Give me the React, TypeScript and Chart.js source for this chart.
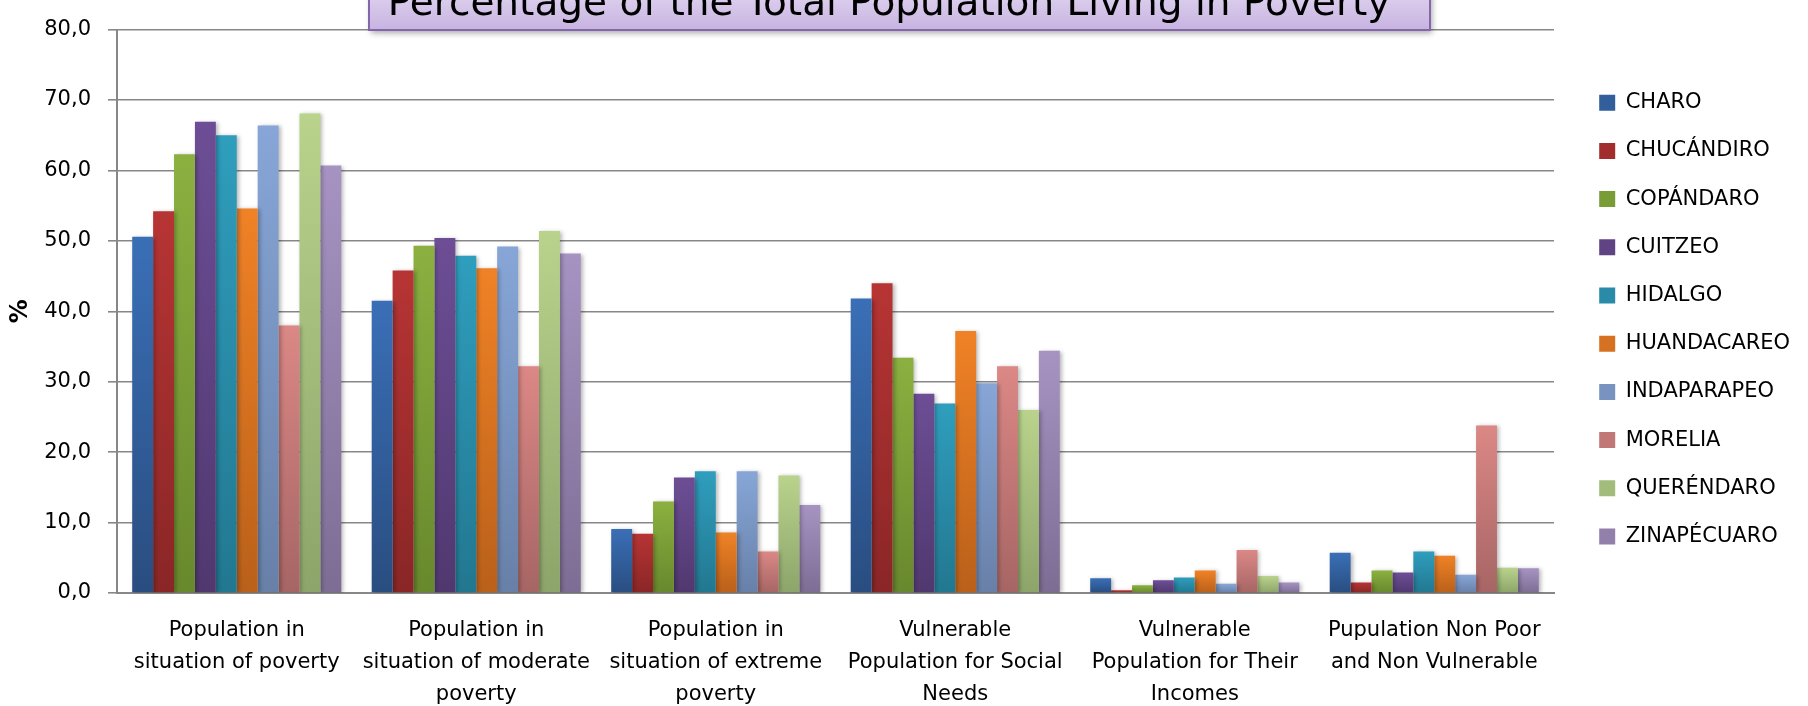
import React, { useEffect, useRef } from "react";
import { Chart, registerables } from "chart.js";

Chart.register(...registerables);

// ---------- data ----------
const chartTitle = "Percentage of the Total Population Living in Poverty";
const yAxisTitle = "%";

const categories: string[][] = [
  ["Population in", "situation of poverty"],
  ["Population in", "situation of moderate", "poverty"],
  ["Population in", "situation of extreme", "poverty"],
  ["Vulnerable", "Population for Social", "Needs"],
  ["Vulnerable", "Population for Their", "Incomes"],
  ["Pupulation Non Poor", "and Non Vulnerable"],
];

const municipalities = [
  "CHARO",
  "CHUCÁNDIRO",
  "COPÁNDARO",
  "CUITZEO",
  "HIDALGO",
  "HUANDACAREO",
  "INDAPARAPEO",
  "MORELIA",
  "QUERÉNDARO",
  "ZINAPÉCUARO",
];

const charo = [50.6, 41.5, 9.1, 41.8, 2.1, 5.7];
const chucandiro = [54.2, 45.8, 8.4, 44.0, 0.4, 1.5];
const copandaro = [62.3, 49.3, 13.0, 33.4, 1.1, 3.2];
const cuitzeo = [66.9, 50.4, 16.4, 28.3, 1.8, 2.9];
const hidalgo = [65.0, 47.9, 17.3, 26.9, 2.2, 5.9];
const huandacareo = [54.6, 46.1, 8.6, 37.2, 3.2, 5.3];
const indaparapeo = [66.4, 49.2, 17.3, 29.8, 1.3, 2.6];
const morelia = [38.0, 32.2, 5.9, 32.2, 6.1, 23.8];
const querendaro = [68.1, 51.4, 16.7, 26.0, 2.4, 3.6];
const zinapecuaro = [60.7, 48.2, 12.5, 34.4, 1.5, 3.5];

const seriesValues = [
  charo,
  chucandiro,
  copandaro,
  cuitzeo,
  hidalgo,
  huandacareo,
  indaparapeo,
  morelia,
  querendaro,
  zinapecuaro,
];

const yMin = 0;
const yMax = 80;
const yStep = 10;

// ---------- styles ----------
const topColors = [
  "#3a6fb7",
  "#b73434",
  "#8cb040",
  "#6d4e96",
  "#2f9ebd",
  "#f08226",
  "#87a6d7",
  "#db8886",
  "#b9d38c",
  "#a693c2",
];
const bottomColors = [
  "#294d80",
  "#8a2626",
  "#68882d",
  "#50386f",
  "#227790",
  "#b9601a",
  "#6880a8",
  "#a66564",
  "#8da46a",
  "#7d6d94",
];

const FONT = '"DejaVu Sans", "Liberation Sans", sans-serif';
const GRID = "#878787";

function mix(a: string, b: string) {
  const pa = [1, 3, 5].map((i) => parseInt(a.slice(i, i + 2), 16));
  const pb = [1, 3, 5].map((i) => parseInt(b.slice(i, i + 2), 16));
  return (
    "rgb(" + pa.map((v, i) => Math.round((v + pb[i]) / 2)).join(",") + ")"
  );
}

const titleBoxPlugin = {
  id: "titleBox",
  afterDraw(chart: any) {
    const ctx = chart.ctx as CanvasRenderingContext2D;
    const x0 = 369;
    const x1 = 1430;
    const yTop = -30;
    const yBot = 30;
    ctx.save();
    ctx.shadowColor = "rgba(0,0,0,0.35)";
    ctx.shadowBlur = 6;
    ctx.shadowOffsetX = 2;
    ctx.shadowOffsetY = 3;
    const g = ctx.createLinearGradient(0, yTop, 0, yBot);
    g.addColorStop(0, "#ebe4f6");
    g.addColorStop(1, "#c8b3e1");
    ctx.fillStyle = g;
    ctx.fillRect(x0, yTop, x1 - x0, yBot - yTop);
    ctx.shadowColor = "transparent";
    ctx.strokeStyle = "#8466ab";
    ctx.lineWidth = 2;
    ctx.strokeRect(x0, yTop, x1 - x0, yBot - yTop);
    ctx.fillStyle = "#000";
    ctx.font = "39px " + FONT;
    ctx.textAlign = "center";
    ctx.textBaseline = "alphabetic";
    ctx.fillText(chartTitle, 889, 15);
    ctx.restore();
  },
};

const legendFitPlugin = {
  id: "legendFit",
  beforeLayout(chart: any) {
    const l = chart.legend;
    if (l && !l.__patched) {
      const orig = l.fit.bind(l);
      l.fit = function () {
        orig();
        this.width = 200;
      };
      l.__patched = true;
    }
  },
  afterLayout(chart: any) {
    const l = chart.legend;
    if (l) {
      l.left += 18;
      l.right = chart.width;
      l.width = l.right - l.left;
      l.top -= 42.4;
      l.bottom -= 42.4;
    }
  },
};

const barShadowPlugin = {
  id: "barShadow",
  beforeDatasetsDraw(chart: any) {
    const ctx = chart.ctx;
    ctx.save();
    ctx.shadowColor = "rgba(0,0,0,0.28)";
    ctx.shadowBlur = 4;
    ctx.shadowOffsetX = 2;
    ctx.shadowOffsetY = 1;
  },
  afterDatasetsDraw(chart: any) {
    chart.ctx.restore();
  },
};

export default function App() {
  const canvasRef = useRef<HTMLCanvasElement | null>(null);

  useEffect(() => {
    if (!canvasRef.current) return;
    Chart.defaults.font.family = FONT;
    Chart.defaults.color = "#000";

    const datasets = municipalities.map((name, i) => ({
      label: name,
      data: seriesValues[i],
      backgroundColor: (c: any) => {
        const top = topColors[i];
        const bottom = bottomColors[i];
        const chart = c.chart;
        const ys = chart.scales && chart.scales.y;
        if (!ys || c.type !== "data") return mix(top, bottom);
        const v = c.raw as number;
        const y0 = ys.getPixelForValue(0);
        const y1 = ys.getPixelForValue(v);
        if (!isFinite(y0) || !isFinite(y1) || Math.abs(y0 - y1) < 1)
          return top;
        const g = chart.ctx.createLinearGradient(0, y1, 0, y0);
        g.addColorStop(0, top);
        g.addColorStop(1, bottom);
        return g;
      },
      borderWidth: 0,
      categoryPercentage: 0.873,
      barPercentage: 1.0,
    }));

    const chart = new Chart(canvasRef.current, {
      type: "bar",
      data: { labels: categories as any, datasets },
      options: {
        animation: false,
        responsive: false,
        devicePixelRatio: 1,
        layout: { padding: { top: 18, left: 0, right: 54, bottom: 0 } },
        plugins: {
          title: { display: false },
          tooltip: { enabled: false },
          legend: {
            position: "right",
            labels: {
              boxWidth: 16,
              boxHeight: 16,
              padding: 27.2,
              color: "#000",
              font: { size: 21, family: FONT },
              generateLabels: (ch: any) =>
                municipalities.map((name, i) => ({
                  text: name,
                  fillStyle: mix(topColors[i], bottomColors[i]),
                  strokeStyle: "transparent",
                  lineWidth: 0,
                  hidden: !ch.isDatasetVisible(i),
                  datasetIndex: i,
                })),
            },
          },
        },
        scales: {
          x: {
            afterFit: (s: any) => {
              s.height = 113;
            },
            grid: { display: false },
            border: { display: true, color: GRID, width: 2 },
            ticks: {
              color: "#000",
              font: { size: 21, family: FONT, lineHeight: 1.52 },
              maxRotation: 0,
              minRotation: 0,
              autoSkip: false,
              padding: 14,
            },
          },
          y: {
            min: yMin,
            max: yMax,
            afterFit: (s: any) => {
              s.width = 117;
            },
            grid: {
              color: GRID,
              lineWidth: 1.6,
              tickLength: 9,
              drawTicks: true,
            },
            border: { display: true, color: GRID, width: 2 },
            ticks: {
              stepSize: yStep,
              padding: 17,
              color: "#000",
              font: { size: 21, family: FONT },
              callback: (v: any) => Number(v).toFixed(1).replace(".", ","),
            },
            title: {
              display: true,
              text: yAxisTitle,
              color: "#000",
              font: { size: 24, family: FONT, weight: "bold" },
              padding: { top: 6, bottom: 0 },
            },
          },
        },
      },
      plugins: [barShadowPlugin, legendFitPlugin, titleBoxPlugin],
    } as any);

    return () => chart.destroy();
  }, []);

  return (
    <div
      style={{
        position: "fixed",
        left: 0,
        top: 0,
        width: 1808,
        height: 706,
        background: "#fff",
      }}
    >
      <canvas
        ref={canvasRef}
        width={1808}
        height={706}
        style={{ display: "block", width: 1808, height: 706 }}
      />
    </div>
  );
}
